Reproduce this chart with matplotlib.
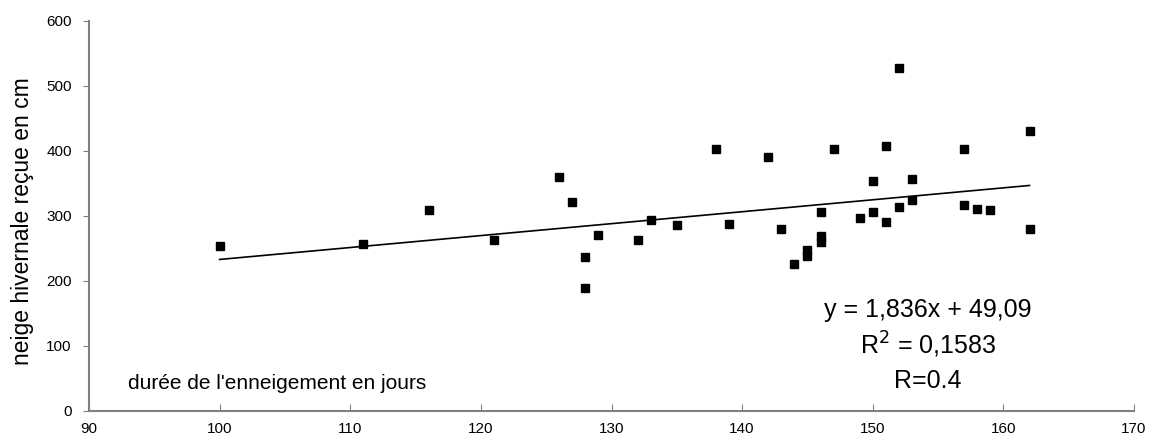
import matplotlib
matplotlib.use("Agg")
import matplotlib.pyplot as plt
import numpy as np

# durée de l'enneigement (jours) and neige reçue (cm)
duree = [100, 111, 116, 121, 126, 127, 128, 128, 129, 132, 133, 135, 138, 139,
         142, 143, 144, 145, 145, 146, 146, 146, 147, 149, 150, 150, 151, 151,
         152, 152, 153, 153, 157, 157, 158, 159, 162, 162]
neige = [254, 256, 308, 263, 359, 321, 237, 189, 271, 262, 293, 286, 403, 287,
         391, 279, 225, 247, 238, 305, 268, 259, 402, 297, 353, 305, 407, 291,
         313, 528, 357, 324, 403, 317, 310, 309, 430, 280]

slope = 1.836
intercept = 49.09
fit_x = [100, 162]

xticks = [90, 100, 110, 120, 130, 140, 150, 160, 170]
yticks = [0, 100, 200, 300, 400, 500, 600]

plt.rcParams['font.family'] = ['Liberation Sans', 'DejaVu Sans']

W, H = 1153, 441
fig = plt.figure(figsize=(W / 100, H / 100), dpi=100)
ax = fig.add_axes([89 / W, 1 - 410.7 / H, (1134 - 89) / W, (410.7 - 20.7) / H])

ax.plot(duree, neige, 's', color='black', ms=5.8, zorder=3)
fx = np.array(fit_x)
ax.plot(fx, slope * fx + intercept, color='black', lw=1.2, zorder=2)

ax.set_xlim(90, 170)
ax.set_ylim(0, 600)
ax.set_xticks(xticks)
ax.set_yticks(yticks)
ax.tick_params(axis='x', direction='in', length=5, color='#808080', labelsize=11, pad=8)
ax.tick_params(axis='y', direction='out', length=4.5, color='#808080', labelsize=11, pad=8)

for s in ['top', 'right']:
    ax.spines[s].set_visible(False)
for s in ['left', 'bottom']:
    ax.spines[s].set_color('#808080')
    ax.spines[s].set_linewidth(1.5)

fig.text(22.5 / W, 1 - 221 / H, "neige hivernale reçue en cm", fontsize=16.5,
         rotation=90, ha='center', va='center')

fig.text(128 / W, 1 - 389 / H, "durée de l'enneigement en jours",
         fontsize=15, ha='left', va='baseline')

eq_x = 928
fig.text(eq_x / W, 1 - 316.7 / H, "y = 1,836x + 49,09", fontsize=18,
         ha='center', va='baseline')
fig.text(eq_x / W, 1 - 354 / H, "R$^{2}$ = 0,1583", fontsize=18,
         ha='center', va='baseline')
fig.text(eq_x / W, 1 - 388 / H, "R=0.4", fontsize=18,
         ha='center', va='baseline')

fig.savefig("out.png", dpi=100)
